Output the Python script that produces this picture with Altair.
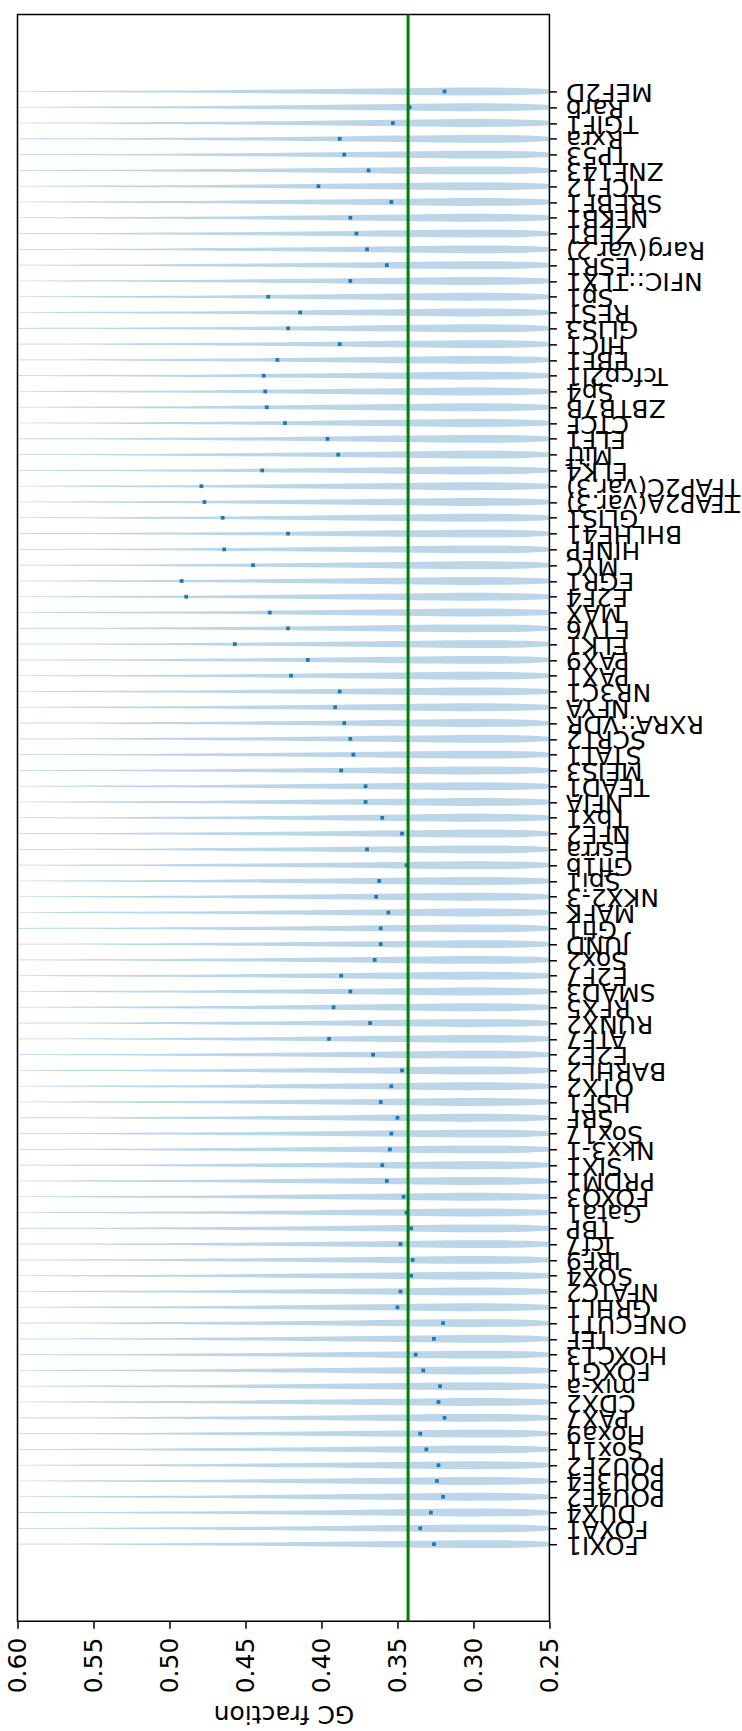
import json
import altair as alt
import pandas as pd

# Motif names, listed from the bottom row (position 1) to the top row
motifs = [
    "FOXI1", "FOXA1", "DUX4", "POU4F2", "POU3F4", "POU2F2", "Sox11", "Hoxa9",
    "PAX7", "CDX2", "mix-a", "FOXG1", "HOXC13", "TEF", "ONECUT1", "GRHL1",
    "NFATC2", "SOX4", "IRF9", "Tcf7", "TBP", "Gata1", "FOXO3", "PRDM1", "SIX1",
    "Nkx3-1", "Sox17", "SRF", "HSF1", "OTX2", "BARHL2", "E2F2", "ATF7", "RUNX2",
    "RFX5", "SMAD3", "E2F7", "Sox2", "JUND", "Gfi1", "MAFK", "NKX2-3", "Spi1",
    "Gfi1b", "Esrra", "NFE2", "Tbx1", "NFIA", "TEAD1", "MEIS3", "STAT1",
    "SCRT2", "RXRA::VDR", "NFYA", "NR3C1", "PAX1", "PAX9", "ELK1", "ETV6",
    "MAX", "E2F4", "EGR1", "MYC", "HINFP", "BHLHE41", "GLIS1", "TFAP2A(var.3)",
    "TFAP2C(var.3)", "ELK4", "Mitf", "ELF1", "CTCF", "ZBTB7B", "Sp4",
    "Tcfcp2l1", "EBF1", "HIC1", "GLIS3", "REST", "Sp1", "NFIC::TLX1", "ESR1",
    "Rarg(var.2)", "ZEB1", "NFKB1", "SREBF1", "TCF12", "ZNF143", "TP53", "Rxra",
    "TGIF1", "Rarb", "MEF2D",
]

# Median GC fraction of each motif's sites (same order as motifs)
medians = [
    0.326, 0.335, 0.328, 0.320, 0.324, 0.323, 0.331, 0.335,
    0.319, 0.323, 0.322, 0.333, 0.338, 0.326, 0.320, 0.350,
    0.348, 0.341, 0.340, 0.348, 0.341, 0.344, 0.346, 0.357, 0.360,
    0.355, 0.354, 0.350, 0.361, 0.354, 0.347, 0.366, 0.395, 0.368,
    0.392, 0.381, 0.387, 0.365, 0.361, 0.361, 0.356, 0.364, 0.362,
    0.344, 0.370, 0.347, 0.360, 0.371, 0.371, 0.387, 0.379,
    0.381, 0.385, 0.391, 0.388, 0.420, 0.409, 0.457, 0.422,
    0.434, 0.489, 0.492, 0.445, 0.464, 0.422, 0.465, 0.477,
    0.479, 0.439, 0.389, 0.396, 0.424, 0.436, 0.437,
    0.438, 0.429, 0.388, 0.422, 0.414, 0.435, 0.381, 0.357,
    0.370, 0.377, 0.381, 0.354, 0.402, 0.369, 0.385, 0.388,
    0.353, 0.342, 0.319,
]

# Genome-wide background GC fraction
background_gc = 0.343

# Violin outline: relative half-thickness along the GC axis
profile_gc = [0.60, 0.57, 0.54, 0.50, 0.47, 0.44, 0.41, 0.38, 0.35, 0.32,
              0.30, 0.28, 0.265, 0.255, 0.25]
profile_width = [0.08, 0.12, 0.17, 0.25, 0.33, 0.43, 0.55, 0.68, 0.82, 0.94,
                 1.00, 0.96, 0.84, 0.68, 0.55]

HALF_WIDTH = 0.25  # maximal half-thickness of a violin, in row units
positions = list(range(1, len(motifs) + 1))

violin_rows = []
for pos, name in zip(positions, motifs):
    for g, w in zip(profile_gc, profile_width):
        violin_rows.append({"pos": pos, "motif": name, "gc": g,
                            "lo": pos - w * HALF_WIDTH,
                            "hi": pos + w * HALF_WIDTH})
violins_df = pd.DataFrame(violin_rows)
medians_df = pd.DataFrame({"pos": positions, "motif": motifs, "gc": medians})
line_df = pd.DataFrame({"gc": [background_gc]})

FONT = "DejaVu Sans"
FS = 25
label_lookup = json.dumps(motifs)

x_scale = alt.Scale(domain=[0.25, 0.60], reverse=True, nice=False, zero=False)
y_scale = alt.Scale(domain=[-3.88, 97.88], nice=False, zero=False)

x_axis = alt.Axis(
    values=[0.25, 0.30, 0.35, 0.40, 0.45, 0.50, 0.55, 0.60], format=".2f",
    labelAngle=270, labelAlign="right", labelBaseline="middle",
    labelFont=FONT, labelFontSize=FS, labelColor="black", labelPadding=9,
    labelOverlap=False, labelFlush=False,
    tickSize=7, tickColor="black", tickWidth=1.5,
    domain=False, grid=False,
    title="GC fraction", titleAngle=180, titleFont=FONT, titleFontSize=FS,
    titleFontWeight="normal", titleColor="black", titlePadding=8,
    titleBaseline="bottom",
)
y_axis = alt.Axis(
    orient="right", values=positions,
    labelExpr=f"{label_lookup}[datum.value - 1]",
    labelAngle=180, labelAlign="right", labelBaseline="middle",
    labelFont=FONT, labelFontSize=FS, labelColor="black", labelPadding=9,
    labelOverlap=False, labelBound=False, labelFlush=False,
    tickSize=7, tickColor="black", tickWidth=1.5,
    domain=False, grid=False, title=None,
)

violins = alt.Chart(violins_df).mark_area(
    orient="vertical", color="#1f77b4", opacity=0.3, interpolate="monotone"
).encode(
    x=alt.X("gc:Q", scale=x_scale, axis=x_axis),
    y=alt.Y("lo:Q", scale=y_scale, axis=y_axis),
    y2="hi:Q",
    detail="motif:N",
)

median_marks = alt.Chart(medians_df).mark_square(
    size=14, color="#1f77b4", opacity=1
).encode(
    x=alt.X("gc:Q", scale=x_scale, axis=x_axis),
    y=alt.Y("pos:Q", scale=y_scale, axis=y_axis),
)

background_rule = alt.Chart(line_df).mark_rule(
    color="#008000", strokeWidth=3
).encode(x=alt.X("gc:Q", scale=x_scale, axis=x_axis))

chart = alt.layer(violins, median_marks, background_rule).properties(
    width=532, height=1607,
    autosize=alt.AutoSizeParams(type="none"),
    padding={"left": 17.5, "top": 14.3, "right": 192.6, "bottom": 109.7},
    background="white",
).configure_view(
    stroke="black", strokeWidth=1.5
).configure_axisY(labelOverlap=False, labelBound=False)

chart.save("out.html", embed_options={"renderer": "svg", "actions": False})
